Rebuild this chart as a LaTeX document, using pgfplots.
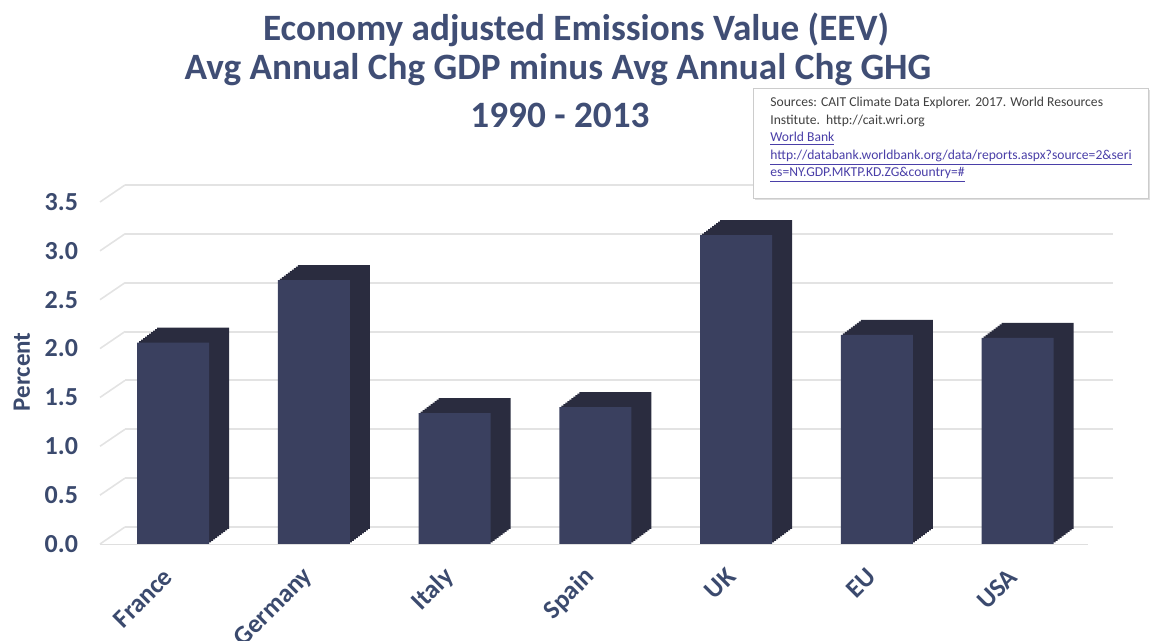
\documentclass[border=0pt]{standalone}
\usepackage{pgfplots}
\pgfplotsset{compat=1.18}
\usepackage{pgfplotstable}
\usepackage{fontspec}
\setmainfont{Carlito}
\usetikzlibrary{shadows}
\definecolor{titlec}{HTML}{404E75}
\definecolor{tickc}{HTML}{3B4A6E}
\definecolor{barfront}{HTML}{3A405F}
\definecolor{barside}{HTML}{2A2C3F}
\definecolor{linkc}{HTML}{4A3FA8}
\pgfplotstableread{
x y
0 2.06
1 2.70
2 1.34
3 1.40
4 3.16
5 2.14
6 2.11
}\data
\begin{document}
\begin{tikzpicture}
\useasboundingbox (0,0) rectangle (575pt,320.5pt);
\begin{axis}[
  at={(50pt,48.5pt)}, anchor=south west,
  scale only axis, width=494pt, height=171pt,
  xmin=-0.52, xmax=6.5, ymin=0, ymax=3.5,
  clip=false,
  axis x line*=bottom, axis y line*=left,
  x axis line style={draw=gray!25,-},
  y axis line style={draw=none},
  tick style={draw=none}, major tick length=0pt,
  xtick=data,
  xticklabels={France,Germany,Italy,Spain,UK,EU,USA},
  ytick={0,0.5,...,3.5},
  yticklabel style={/pgf/number format/.cd,fixed,fixed zerofill,precision=1,assume math mode=true},
  ticklabel style={font=\fontsize{13}{13}\selectfont\bfseries, text=tickc},
  yticklabel shift=7.5pt,
  xticklabel style={rotate=45, anchor=east},
  xticklabel shift=12pt,
  ymajorgrids,
  major grid style={draw=gray!22, line width=1pt, xshift=12.5pt, yshift=8.5pt},
  ylabel={Percent},
  every axis y label/.style={at={(axis description cs:-0.079,0.503)}, rotate=90, anchor=center,
     font=\fontsize{12.5}{12.5}\selectfont\bfseries, text=tickc},
]
\pgfplotsinvokeforeach{0,0.5,...,3.5}{
  \draw[gray!22, line width=0.8pt] (axis cs:-0.52,#1) -- ++(12.5pt,8.5pt);
}
\pgfplotsinvokeforeach{10,9,...,1}{
  \addplot[ybar, bar width=36pt, fill=barside, draw=none, xshift=#1pt, yshift=0.75*#1pt] table[x=x,y=y]{\data};
}
\addplot[ybar, bar width=36pt, fill=barfront, draw=none] table[x=x,y=y]{\data};
\end{axis}
% title
\node[anchor=base, font=\fontsize{18.6}{18.6}\selectfont\bfseries, text=titlec] at (288pt,300pt) {Economy adjusted Emissions Value (EEV)};
\node[anchor=base, font=\fontsize{18.6}{18.6}\selectfont\bfseries, text=titlec] at (279pt,280.5pt) {Avg Annual Chg GDP minus Avg Annual Chg GHG};
\node[anchor=base, font=\fontsize{18.6}{18.6}\selectfont\bfseries, text=titlec] at (280pt,256.5pt) {1990 - 2013};
% source box
\draw[gray!40, fill=white, drop shadow={opacity=0.25, shadow xshift=1pt, shadow yshift=-1pt}] (376.5pt,221.5pt) rectangle (574pt,276.5pt);
\node[anchor=north west, align=left, inner sep=0pt, font=\fontsize{6.8}{8.7}\selectfont, text=black!75] at (385pt,272pt) {%
Sources: CAIT Climate Data Explorer. 2017. World Resources\\
Institute.\ \ http://cait.wri.org\\
\textcolor{linkc}{\underline{World Bank}}\\
\textcolor{linkc}{\underline{http://databank.worldbank.org/data/reports.aspx?source=2\&seri}}\\
\textcolor{linkc}{\underline{es=NY.GDP.MKTP.KD.ZG\&country=\#}}};
\end{tikzpicture}
\end{document}
